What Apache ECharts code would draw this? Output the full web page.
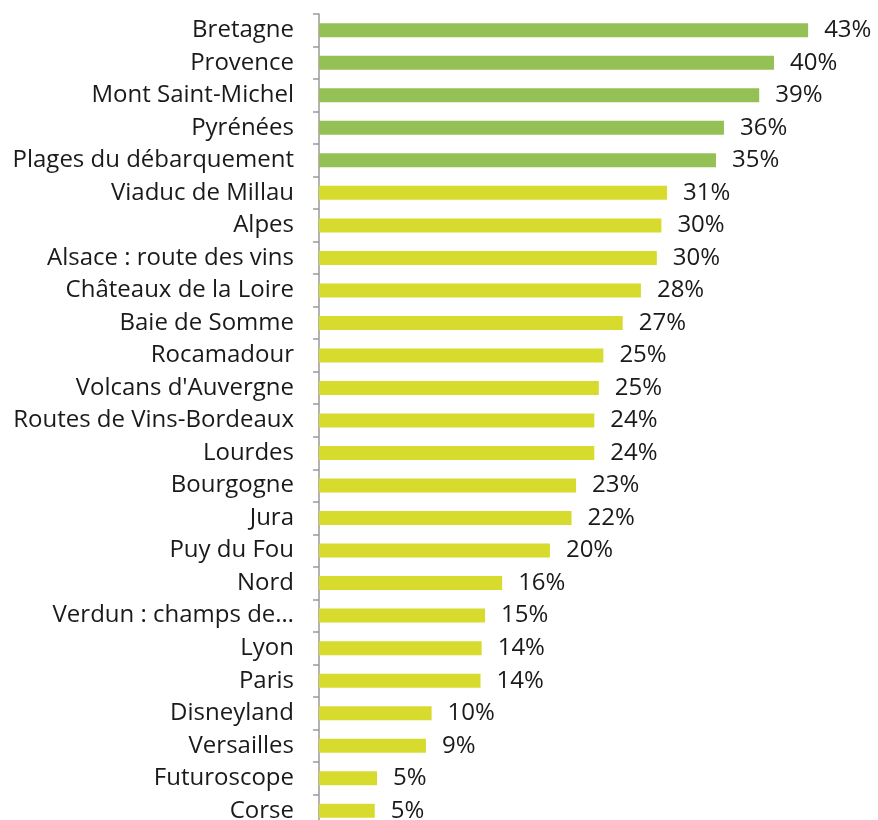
<!DOCTYPE html>
<html>
<head>
<meta charset="utf-8">
<script src="https://cdn.jsdelivr.net/npm/echarts@6/dist/echarts.min.js"></script>
<style>
  html, body { margin: 0; padding: 0; background: #fff; }
  #chart { width: 878px; height: 820px; }
</style>
</head>
<body>
<div id="chart"></div>
<script>
  // destinations, top to bottom
  var categories = [
    'Bretagne', 'Provence', 'Mont Saint-Michel', 'Pyrénées', 'Plages du débarquement',
    'Viaduc de Millau', 'Alpes', 'Alsace : route des vins', 'Châteaux de la Loire', 'Baie de Somme',
    'Rocamadour', "Volcans d'Auvergne", 'Routes de Vins-Bordeaux', 'Lourdes', 'Bourgogne',
    'Jura', 'Puy du Fou', 'Nord', 'Verdun : champs de…', 'Lyon',
    'Paris', 'Disneyland', 'Versailles', 'Futuroscope', 'Corse'
  ];
  var values = [
    43.0, 40.0, 38.7, 35.6, 34.9,
    30.6, 30.1, 29.7, 28.3, 26.7,
    25.0, 24.6, 24.2, 24.2, 22.6,
    22.2, 20.3, 16.1, 14.6, 14.3,
    14.2, 9.9, 9.4, 5.1, 4.9
  ];
  var topCount = 5; // first bars drawn in green

  var myChart = echarts.init(document.getElementById('chart'));
  var option = {
    animation: false,
    grid: {
      left: 319,
      top: 14,
      width: 546,
      height: 813,
      outerBoundsMode: 'none' // last row runs past the bottom edge
    },
    xAxis: {
      type: 'value',
      min: 0,
      max: 48,
      show: false
    },
    yAxis: {
      type: 'category',
      inverse: true,
      data: categories,
      axisLine: { lineStyle: { color: '#9a9a9a', width: 1.5 } },
      axisTick: { show: true, length: 6, lineStyle: { color: '#9a9a9a', width: 1.5 } },
      axisLabel: {
        margin: 25,
        color: '#1a1a1a',
        fontSize: 24,
        fontFamily: 'Open Sans'
      }
    },
    series: [{
      type: 'bar',
      data: values,
      barWidth: 14,
      itemStyle: {
        color: function (p) {
          return p.dataIndex < topCount ? '#95c055' : '#d6db2e';
        }
      },
      label: {
        show: true,
        position: 'right',
        distance: 16,
        color: '#1a1a1a',
        fontSize: 24,
        fontFamily: 'Open Sans',
        formatter: function (p) {
          return Math.round(p.value) + '%';
        }
      }
    }]
  };
  myChart.setOption(option, true);
</script>
</body>
</html>
